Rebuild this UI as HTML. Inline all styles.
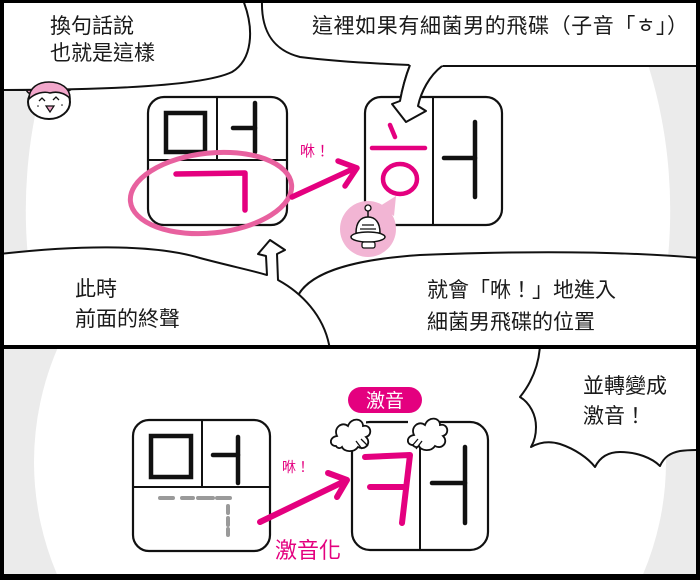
<!DOCTYPE html>
<html><head><meta charset="utf-8"><style>
html,body{margin:0;padding:0;background:#fff;width:700px;height:580px;overflow:hidden;}
svg{display:block;}
text{font-family:"Liberation Sans","Noto Sans CJK TC",sans-serif;fill:#1a1a1a;}
</style></head><body>
<svg width="700" height="580" viewBox="0 0 700 580" xmlns="http://www.w3.org/2000/svg">
<defs>
<clipPath id="ct"><rect x="4" y="3" width="692" height="342"/></clipPath>
<clipPath id="cb"><rect x="4" y="349" width="692" height="225"/></clipPath>
</defs>
<rect width="700" height="580" fill="#000"/>

<!-- ================= TOP PANEL ================= -->
<g clip-path="url(#ct)">
<rect x="0" y="0" width="700" height="350" fill="#ebebeb"/>
<path d="M74,0 A322,400 0 0 0 46,350 L650,350 A322,400 0 0 0 622,0 Z" fill="#fff"/>

<circle cx="32" cy="88" r="6" fill="#f2a7cb" stroke="#111" stroke-width="1.5"/>
<circle cx="67" cy="85" r="6" fill="#f2a7cb" stroke="#111" stroke-width="1.5"/>

<path d="M0,90 C120,90 205,85 232,72 C252,60 255,30 243,0 L0,0 Z" fill="#fff" stroke="#111" stroke-width="2"/>

<ellipse cx="49" cy="102" rx="21" ry="17" fill="#fff" stroke="#111" stroke-width="2"/>
<path d="M29,99 C29,87 39,82 49,82 C61,82 70,88 70,98 C64,93 57,91 50,93 C44,91 35,93 29,99 Z" fill="#f2a7cb" stroke="#111" stroke-width="1.5"/>
<path d="M39,101 L42,98 L45,101" fill="none" stroke="#111" stroke-width="1.3"/>
<path d="M53,100 L56,97 L59,100" fill="none" stroke="#111" stroke-width="1.3"/>
<path d="M46,106 L54,106 L50,112 Z" fill="#f2a7cb" stroke="#111" stroke-width="1.2"/>
<circle cx="38" cy="106" r="0.8" fill="#111"/><circle cx="62" cy="105" r="0.8" fill="#111"/>

<path d="M262,0 C261,30 272,50 300,57 C340,62 385,64 410,65 C405,78 402,90 400,101 L392,104 L406,122 L426,111 L418,106 C421,92 429,76 442,66 C520,66 620,66 700,66 L700,0 Z" fill="#fff" stroke="#111" stroke-width="2" stroke-linejoin="round"/>

<path d="M296,300 C305,275 345,260 420,255 C520,251 620,251 700,258 L700,350 L296,350 Z" fill="#fff" stroke="#111" stroke-width="2"/>
<path d="M0,254 C70,246 150,243 200,258 C230,266 250,270 267,275 L266,256 L258,254 L270,240 L285,250 L277,254 L278,280 C300,292 325,315 330,350 L0,350 Z" fill="#fff" stroke="#111" stroke-width="2" stroke-linejoin="round"/>

<!-- Box 1 -->
<rect x="148" y="97" width="139" height="128" rx="16" fill="#fff" stroke="#111" stroke-width="2.2"/>
<line x1="148" y1="160" x2="287" y2="160" stroke="#111" stroke-width="2"/>
<line x1="217" y1="97" x2="217" y2="160" stroke="#111" stroke-width="2"/>
<rect x="166" y="113" width="39" height="39" fill="none" stroke="#111" stroke-width="4.5"/>
<line x1="255" y1="103" x2="255" y2="152" stroke="#111" stroke-width="4.5" stroke-linecap="round"/>
<line x1="233" y1="128" x2="255" y2="128" stroke="#111" stroke-width="4.5" stroke-linecap="round"/>
<polyline points="176,174 245,173 245,210" fill="none" stroke="#e4007f" stroke-width="5.5" stroke-linecap="round" stroke-linejoin="round"/>
<ellipse cx="211" cy="193" rx="81" ry="40" transform="rotate(-6 211 193)" fill="none" stroke="#e8619f" stroke-width="5"/>

<line x1="292" y1="197" x2="355" y2="168" stroke="#e4007f" stroke-width="5.5" stroke-linecap="round"/>
<polyline points="338,161 357,168 345,186" fill="none" stroke="#e4007f" stroke-width="5.5" stroke-linecap="round" stroke-linejoin="round"/>
<text x="300" y="156" font-size="15" style="fill:#e4007f">咻！</text>

<!-- Box 2 -->
<rect x="365" y="97" width="137" height="128" rx="16" fill="#fff" stroke="#111" stroke-width="2.2"/>
<line x1="433" y1="97" x2="433" y2="225" stroke="#111" stroke-width="2"/>
<line x1="390" y1="125" x2="395" y2="137" stroke="#e4007f" stroke-width="4.5" stroke-linecap="round"/>
<line x1="372" y1="148" x2="425" y2="148" stroke="#e4007f" stroke-width="4.5" stroke-linecap="round"/>
<ellipse cx="400" cy="179" rx="17" ry="15" fill="none" stroke="#e4007f" stroke-width="4.5"/>
<line x1="475" y1="122" x2="475" y2="197" stroke="#111" stroke-width="4.5" stroke-linecap="round"/>
<line x1="444" y1="158" x2="475" y2="158" stroke="#111" stroke-width="4.5" stroke-linecap="round"/>

<path d="M405,60 L410,65 C405,78 402,90 400,101 L392,104 L406,122 L426,111 L418,106 C421,92 429,76 442,66 L447,60 Z" fill="#fff"/>
<path d="M410,65 C405,78 402,90 400,101 L392,104 L406,122 L426,111 L418,106 C421,92 429,76 442,66" fill="none" stroke="#111" stroke-width="2" stroke-linejoin="round"/>

<!-- UFO circle -->
<path d="M380,206 L396,196 L394,216 Z" fill="#f2b5d4"/>
<circle cx="368" cy="229" r="28" fill="#f2b5d4"/>
<circle cx="368" cy="208" r="3" fill="#fff" stroke="#111" stroke-width="1.3"/>
<line x1="368" y1="211" x2="368" y2="217" stroke="#111" stroke-width="1.5"/>
<path d="M356,233 C356,222 361,217 368,217 C375,217 380,222 380,233 Z" fill="#fff" stroke="#111" stroke-width="1.5"/>
<path d="M360,229 L376,229 M362,225 L374,225" stroke="#111" stroke-width="1.2"/>
<ellipse cx="368" cy="237" rx="17" ry="5" fill="#fff" stroke="#111" stroke-width="1.5"/>
<rect x="362" y="242" width="13" height="6" rx="2" fill="#fff" stroke="#111" stroke-width="1.3"/>

<text x="50" y="33" font-size="21">換句話說</text>
<text x="50" y="60" font-size="21">也就是這樣</text>
<text x="312" y="33" font-size="21" textLength="376" lengthAdjust="spacing">這裡如果有細菌男的飛碟（子音「ㅎ」）</text>
<text x="75" y="296" font-size="21">此時</text>
<text x="75" y="326" font-size="21">前面的終聲</text>
<text x="427" y="297" font-size="21">就會「咻！」地進入</text>
<text x="427" y="329" font-size="21">細菌男飛碟的位置</text>
</g>

<!-- ================= BOTTOM PANEL ================= -->
<g clip-path="url(#cb)">
<rect x="0" y="345" width="700" height="235" fill="#ebebeb"/>
<path d="M59,345 A316,300 0 0 0 59.5,580 L640.5,580 A316,300 0 0 0 641,345 Z" fill="#fff"/>

<path d="M540,345 C539,365 532,382 520,397 C530,403 536,415 536,427 C536,435 534,442 531,447 C540,442 550,441 560,444 C575,449 588,458 595,467 C600,457 608,452 620,452 C637,452 652,458 660,466 C664,457 670,453 680,451 C688,450 693,450 700,450 L700,345 Z" fill="#fff" stroke="#111" stroke-width="2" stroke-linejoin="round"/>
<text x="583" y="393" font-size="21">並轉變成</text>
<text x="583" y="423" font-size="21">激音！</text>

<!-- Box 3 -->
<rect x="133" y="420" width="137" height="131" rx="16" fill="#fff" stroke="#111" stroke-width="2.2"/>
<line x1="133" y1="487" x2="270" y2="487" stroke="#111" stroke-width="2"/>
<line x1="202" y1="420" x2="202" y2="487" stroke="#111" stroke-width="2"/>
<rect x="151" y="436" width="40" height="41" fill="none" stroke="#111" stroke-width="4.5"/>
<line x1="238" y1="437" x2="238" y2="483" stroke="#111" stroke-width="4.5" stroke-linecap="round"/>
<line x1="213" y1="455" x2="238" y2="455" stroke="#111" stroke-width="4.5" stroke-linecap="round"/>
<path d="M160,498 L173,498 M182,498 L193,498 M198,498 L213,498 M217,498 L230,498" stroke="#9a9a9a" stroke-width="4" stroke-linecap="round"/>
<path d="M228,506 L228,513 M228,518 L228,525 M228,529 L228,535" stroke="#9a9a9a" stroke-width="4" stroke-linecap="round"/>

<line x1="260" y1="522" x2="345" y2="481" stroke="#e4007f" stroke-width="6" stroke-linecap="round"/>
<polyline points="328,473 347,480 337,497" fill="none" stroke="#e4007f" stroke-width="6" stroke-linecap="round" stroke-linejoin="round"/>
<text x="282" y="472" font-size="14" style="fill:#e4007f">咻！</text>
<text x="275" y="558" font-size="22" style="fill:#e4007f">激音化</text>

<!-- Box 4 -->
<rect x="352" y="422" width="136" height="128" rx="18" fill="#fff" stroke="#111" stroke-width="2.2"/>
<line x1="420" y1="422" x2="420" y2="550" stroke="#111" stroke-width="2"/>
<rect x="348" y="418" width="18" height="30" fill="#fff"/>
<rect x="408" y="416" width="24" height="26" fill="#fff"/>
<polyline points="365,457 410,455 402,523" fill="none" stroke="#e4007f" stroke-width="6" stroke-linecap="round" stroke-linejoin="round"/>
<line x1="370" y1="487" x2="405" y2="487" stroke="#e4007f" stroke-width="6" stroke-linecap="round"/>
<line x1="465" y1="447" x2="465" y2="523" stroke="#111" stroke-width="4.5" stroke-linecap="round"/>
<line x1="432" y1="483" x2="465" y2="483" stroke="#111" stroke-width="4.5" stroke-linecap="round"/>

<path d="M336,446 C329,446 329,437 337,436 C333,428 342,421 348,426 C351,417 363,418 363,426 C371,424 373,435 366,437 C372,443 365,451 358,447 C354,453 344,452 342,447 C340,449 337,448 336,446 Z" fill="#fff" stroke="#111" stroke-width="1.8"/>
<path d="M413,445 C406,445 406,436 414,435 C410,427 419,420 425,425 C428,416 440,417 440,425 C448,423 450,434 443,436 C449,442 442,450 435,446 C431,452 421,451 419,446 C417,448 414,447 413,445 Z" fill="#fff" stroke="#111" stroke-width="1.8"/>
<path d="M356,441 L362,449 M361,439 L368,446" stroke="#111" stroke-width="1.3"/>
<path d="M418,439 L412,446 M422,441 L416,449" stroke="#111" stroke-width="1.3"/>

<rect x="348" y="387" width="74" height="26" rx="13" fill="#e4007f"/>
<text x="385" y="407" font-size="19" text-anchor="middle" style="fill:#fff">激音</text>
</g>

<path d="M0,0 H700 V580 H0 Z M4,3 V345 H696 V3 Z M4,349 V574 H696 V349 Z" fill="#000" fill-rule="evenodd"/>
</svg>
</body></html>
